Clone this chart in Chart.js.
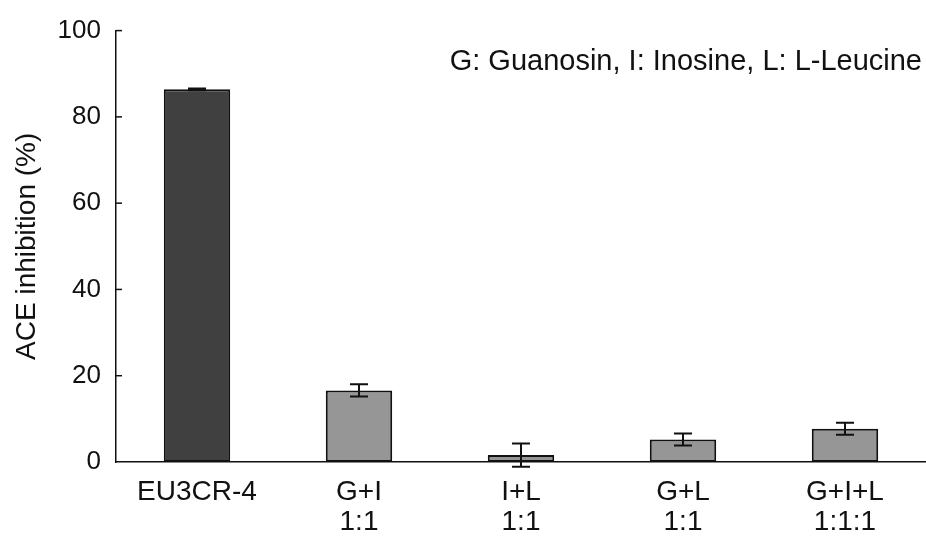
<!DOCTYPE html>
<html>
<head>
<meta charset="utf-8">
<script src="https://cdn.jsdelivr.net/npm/chart.js@4.4.1/dist/chart.umd.min.js"></script>
<style>
	html, body { margin: 0; padding: 0; background: #fff; }
	#wrap { width: 926px; height: 545px; }
</style>
</head>
<body>
<div id="wrap"><canvas id="aceChart" width="926" height="545"></canvas></div>
<script>
const categories = [["EU3CR-4"], ["G+I", "1:1"], ["I+L", "1:1"], ["G+L", "1:1"], ["G+I+L", "1:1:1"]];
const inhibition = [86.4, 16.6, 1.6, 5.2, 7.7];
const errors = [0.2, 1.4, 2.7, 1.4, 1.4];
const yTicks = [0, 20, 40, 60, 80, 100];
const note = "G: Guanosin, I: Inosine, L: L-Leucine";

const FONT = "'Liberation Sans', Arial, sans-serif";

// error bars, drawn from the y scale
const errorBars = {
	id: "errorBars",
	afterDatasetsDraw(chart) {
		const { ctx, scales } = chart;
		const meta = chart.getDatasetMeta(0);
		ctx.save();
		ctx.strokeStyle = "#111";
		ctx.lineWidth = 2;
		meta.data.forEach((bar, i) => {
			const x = bar.x;
			const top = scales.y.getPixelForValue(inhibition[i] + errors[i]);
			const bottom = scales.y.getPixelForValue(inhibition[i] - errors[i]);
			const cap = 9;
			ctx.beginPath();
			ctx.moveTo(x, top);
			ctx.lineTo(x, bottom);
			ctx.moveTo(x - cap, top);
			ctx.lineTo(x + cap, top);
			ctx.moveTo(x - cap, bottom);
			ctx.lineTo(x + cap, bottom);
			ctx.stroke();
		});
		ctx.restore();
	},
};

// inward tick marks on the y axis + the note
const extras = {
	id: "extras",
	afterDraw(chart) {
		const { ctx, scales, chartArea } = chart;
		ctx.save();
		ctx.strokeStyle = "#111";
		ctx.lineWidth = 1.5;
		scales.y.ticks.forEach((t) => {
			if (t.value === 0) return;
			const y = scales.y.getPixelForValue(t.value);
			ctx.beginPath();
			ctx.moveTo(chartArea.left, y);
			ctx.lineTo(chartArea.left + 6, y);
			ctx.stroke();
		});
		ctx.fillStyle = "#111";
		ctx.font = `29px ${FONT}`;
		ctx.textAlign = "right";
		ctx.textBaseline = "middle";
		ctx.fillText(note, chartArea.right - 4, chartArea.top + 31);
		ctx.restore();
	},
};

new Chart(document.getElementById("aceChart"), {
	type: "bar",
	data: {
		labels: categories,
		datasets: [
			{
				data: inhibition,
				backgroundColor: (c) => (c.dataIndex === 0 ? "#404040" : "#969696"),
				borderColor: "#111",
				borderWidth: 2,
				borderSkipped: false,
				barPercentage: 0.41,
				categoryPercentage: 1,
			},
		],
	},
	options: {
		responsive: false,
		animation: false,
		layout: { padding: { top: 30, right: 0, bottom: 0, left: 0 } },
		plugins: {
			legend: { display: false },
			tooltip: { enabled: false },
		},
		scales: {
			x: {
				grid: { display: false, drawTicks: false },
				border: { display: true, color: "#111", width: 1.5 },
				ticks: {
					color: "#111",
					padding: 16,
					maxRotation: 0,
					autoSkip: false,
					font: { family: FONT, size: 28, lineHeight: 1.05 },
				},
				afterFit(scale) {
					scale.height = 83;
				},
			},
			y: {
				min: 0,
				max: 100,
				grid: { display: false, drawTicks: false },
				border: { display: true, color: "#111", width: 1.5 },
				afterBuildTicks(scale) {
					scale.ticks = yTicks.map((v) => ({ value: v }));
				},
				ticks: {
					color: "#111",
					padding: 15,
					font: { family: FONT, size: 26 },
				},
				title: {
					display: true,
					text: "ACE inhibition (%)",
					color: "#111",
					padding: { top: 10, bottom: 0 },
					font: { family: FONT, size: 28 },
				},
				afterFit(scale) {
					scale.width = 116;
				},
			},
		},
	},
	plugins: [errorBars, extras],
});
</script>
</body>
</html>
